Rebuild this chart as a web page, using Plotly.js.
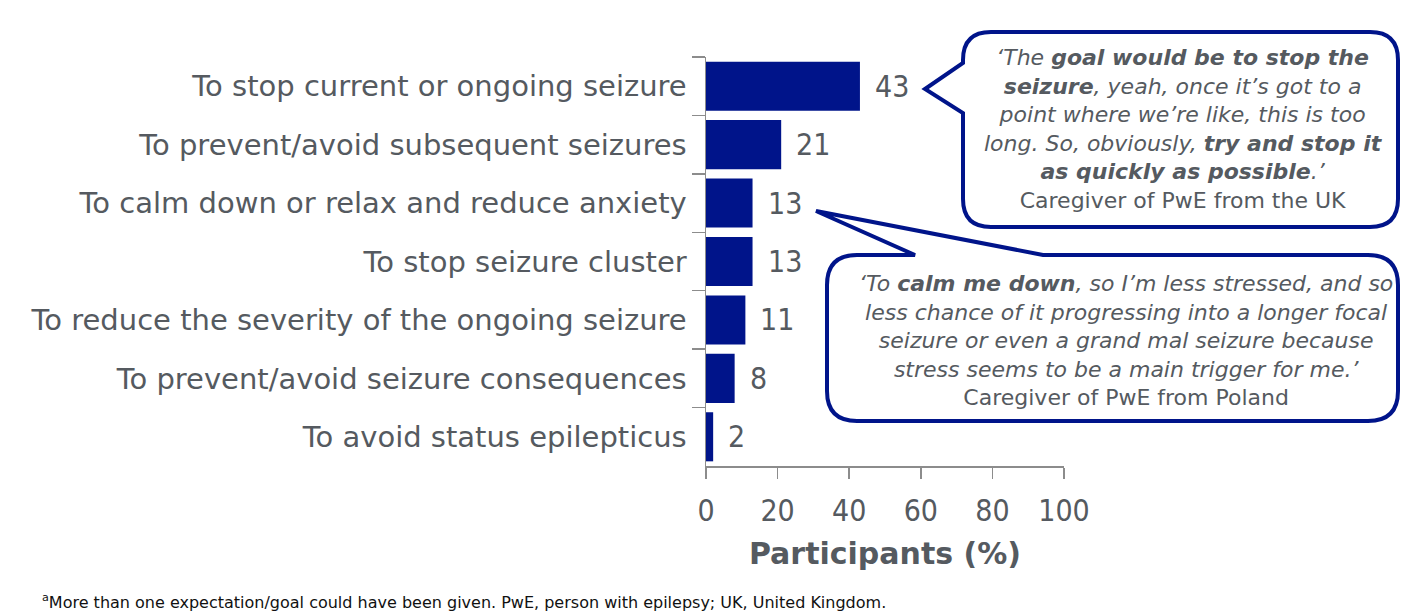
<!DOCTYPE html>
<html><head><meta charset="utf-8">
<script src="https://cdn.plot.ly/plotly-3.0.1.min.js"></script>
<style>html,body{margin:0;padding:0;background:#fff}#chart{width:1403px;height:612px}</style>
</head><body><div id="chart"></div>
<script>
const categories = [
  "To stop current or ongoing seizure",
  "To prevent/avoid subsequent seizures",
  "To calm down or relax and reduce anxiety",
  "To stop seizure cluster",
  "To reduce the severity of the ongoing seizure",
  "To prevent/avoid seizure consequences",
  "To avoid status epilepticus"
];
const values = [43, 21, 13, 13, 11, 8, 2];
const xTicks = [0, 20, 40, 60, 80, 100];
const quote1 = "<i>\u2018The <b>goal would be to stop the</b><br><b>seizure</b>, yeah, once it\u2019s got to a<br>point where we\u2019re like, this is too<br>long. So, obviously, <b>try and stop it</b><br><b>as quickly as possible</b>.\u2019</i><br>Caregiver of PwE from the UK";
const quote2 = "<i>\u2018To <b>calm me down</b>, so I\u2019m less stressed, and so<br>less chance of it progressing into a longer focal<br>seizure or even a grand mal seizure because<br>stress seems to be a main trigger for me.\u2019</i><br>Caregiver of PwE from Poland";
const footnote = "<sup>a</sup>More than one expectation/goal could have been given. PwE, person with epilepsy; UK, United Kingdom.";

const W = 1403, H = 612;
const L = 706, R = 1064, T = 57, B = 466;
const NAVY = '#00148A', GREY = '#555a60', AX = '#8c8c8c';
const FONT = '"DejaVu Sans", sans-serif';
const FONTC = '"DejaVu Sans Condensed", "DejaVu Sans", sans-serif';
const px = x => (x - L) / (R - L);
const py = y => (B - y) / (B - T);
function path(cmds) {
  return cmds.map(c => c[0] + ' ' + c.slice(1).reduce((a, v, i) => {
    a.push(i % 2 === 0 ? px(v).toFixed(5) : py(v).toFixed(5)); return a;
  }, []).reduce((s, v, i) => s + (i % 2 ? ',' : (i ? ' ' : '')) + v, '')).join(' ') + ' Z';
}
function bubbleLeft(l, t, r, b, rad, tail) {
  return path([['M', l + rad, t], ['L', r - rad, t], ['Q', r, t, r, t + rad], ['L', r, b - rad], ['Q', r, b, r - rad, b],
    ['L', l + rad, b], ['Q', l, b, l, b - rad], ['L', l, tail[2]], ['L', tail[0], tail[1]], ['L', l, tail[3]],
    ['L', l, t + rad], ['Q', l, t, l + rad, t]]);
}
function bubbleTop(l, t, r, b, rad, tail) {
  return path([['M', l + rad, t], ['L', tail[2], t], ['L', tail[0], tail[1]], ['L', tail[3], t], ['L', r - rad, t],
    ['Q', r, t, r, t + rad], ['L', r, b - rad], ['Q', r, b, r - rad, b],
    ['L', l + rad, b], ['Q', l, b, l, b - rad], ['L', l, t + rad], ['Q', l, t, l + rad, t]]);
}

const trace = {
  type: 'bar', orientation: 'h', x: values, y: categories,
  marker: {color: NAVY, line: {width: 0}}, width: 0.84, hoverinfo: 'skip'
};
const valueAnn = values.map((v, i) => ({
  x: v, y: categories[i], xref: 'x', yref: 'y', text: String(v), showarrow: false,
  xanchor: 'left', xshift: 13, font: {family: FONTC, size: 30, color: GREY}
}));
const layout = {
  width: W, height: H, margin: {l: L, r: W - R, t: T, b: H - B},
  paper_bgcolor: '#fff', plot_bgcolor: '#fff', showlegend: false,
  font: {family: FONT, color: GREY},
  xaxis: {range: [0, 100], tickvals: xTicks, ticktext: xTicks.map(String), ticks: 'outside', ticklen: 11, tickwidth: 1.5,
    tickcolor: AX, showline: true, linecolor: AX, linewidth: 1.5, showgrid: false, zeroline: false,
    tickfont: {family: FONTC, size: 30, color: GREY}, ticklabelstandoff: 6,
    title: {text: '<b>Participants (%)</b>', font: {family: FONT, size: 30, color: GREY}, standoff: 16}},
  yaxis: {type: 'category', autorange: 'reversed', ticks: 'outside', tickson: 'boundaries', ticklen: 13, tickwidth: 1.5,
    tickcolor: AX, showline: true, linecolor: AX, linewidth: 1.5, showgrid: false, zeroline: false,
    tickfont: {family: FONT, size: 29, color: GREY}, ticklabelstandoff: 12},
  shapes: [
    {type: 'path', xref: 'paper', yref: 'paper', path: bubbleLeft(963, 32, 1398, 227, 28, [925, 89, 113, 63]),
      fillcolor: '#fff', line: {color: NAVY, width: 4}, layer: 'above'},
    {type: 'path', xref: 'paper', yref: 'paper', path: bubbleTop(827, 255, 1398, 421, 30, [816, 211, 915, 1043]),
      fillcolor: '#fff', line: {color: NAVY, width: 4}, layer: 'above'}
  ],
  annotations: valueAnn.concat([
    {xref: 'paper', yref: 'paper', x: px(1183), y: py(129), text: quote1, showarrow: false, align: 'center',
      xanchor: 'center', yanchor: 'middle', font: {family: FONT, size: 22, color: GREY}},
    {xref: 'paper', yref: 'paper', x: px(1126), y: py(340), text: quote2, showarrow: false, align: 'center',
      xanchor: 'center', yanchor: 'middle', font: {family: FONT, size: 22, color: GREY}},
    {xref: 'paper', yref: 'paper', x: px(40), y: py(601), text: footnote, showarrow: false, align: 'left',
      xanchor: 'left', yanchor: 'middle', font: {family: FONT, size: 16, color: '#111'}}
  ])
};
Plotly.newPlot('chart', [trace], layout, {displayModeBar: false, staticPlot: true});
</script></body></html>
